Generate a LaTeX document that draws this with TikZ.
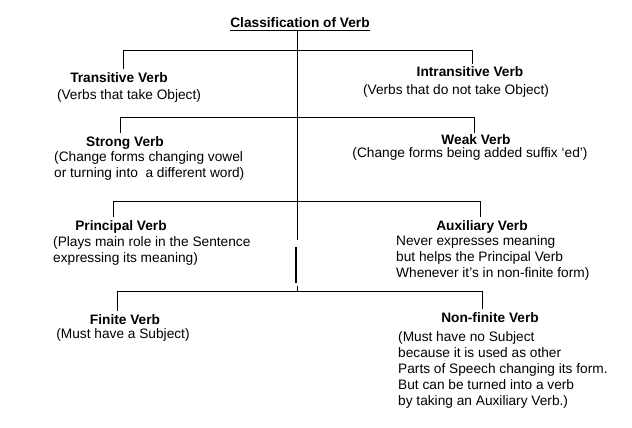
\documentclass[tikz,border=0pt]{standalone}
\usepackage{fontspec}
\setmainfont{Liberation Sans}
\usetikzlibrary{positioning}

\newcommand{\chartfont}{\fontsize{13.7}{16}\selectfont}

\tikzset{
  head/.style={font=\chartfont\bfseries, inner xsep=0pt, inner ysep=2.5pt, anchor=base},
  note/.style={inner sep=0pt, align=left, anchor=north west},
  link/.style={line width=0.8pt}
}

\begin{document}
\begin{tikzpicture}[x=1pt, y=-1pt, font=\chartfont]
    \useasboundingbox (0,0) rectangle (632,428);

    % Root
    \node[head] (root) at (300,27.5) {Classification of Verb};
    \draw[link] ([yshift=-3pt]root.base west) -- ([yshift=-3pt]root.base east);

    % Trunk (with the small break near the bottom)
    \coordinate (t0) at (297,31);
    \coordinate (cut1) at (297,240);
    \coordinate (cut2) at (296,247);
    \coordinate (cut3) at (296,283);
    \coordinate (cut4) at (297,286);
    \coordinate (j4) at (297,291);
    \draw[link] (t0) -- (cut1);
    \draw[line width=1.8pt] (cut2) -- (cut3);
    \draw[link] (cut4) -- (j4);

    % Transitive / Intransitive
    \node[head] (trans) at (119,82) {Transitive Verb};
    \node[inner sep=0pt, anchor=base] (transnote) at (129,99.5) {(Verbs that take Object)};
    \node[head] (intrans) at (470,77) {Intransitive Verb};
    \node[inner sep=0pt, anchor=base] (intransnote) at (456,94) {(Verbs that do not take Object)};
    \coordinate (b1l) at (123,50.7);
    \coordinate (b1r) at (472,50.7);
    \draw[link] (trans.north -| b1l) -- (b1l) -- (b1r) -- (intrans.north -| b1r);

    % Strong / Weak
    \node[head] (strong) at (125,146) {Strong Verb};
    \node[note] (strongnote) at (54,151) {(Change forms changing vowel\\or turning into\ \ a different word)};
    \node[head, inner ysep=1pt] (weak) at (476,144.5) {Weak Verb};
    \node[inner sep=0pt, anchor=base] (weaknote) at (470,157) {(Change forms being added suffix ‘ed’)};
    \coordinate (b2l) at (120,117.3);
    \coordinate (b2r) at (474,117.3);
    \draw[link] (strong.north -| b2l) -- (b2l) -- (b2r) -- (weak.north -| b2r);

    % Principal / Auxiliary
    \node[head] (principal) at (121,230) {Principal Verb};
    \node[note] (principalnote) at (53,236) {(Plays main role in the Sentence\\expressing its meaning)};
    \node[head] (aux) at (482,230) {Auxiliary Verb};
    \node[note] (auxnote) at (396,235) {Never expresses meaning\\but helps the Principal Verb\\Whenever it’s in non-finite form)};
    \coordinate (b3l) at (113,201);
    \coordinate (b3r) at (480,201);
    \draw[link] (principal.north -| b3l) -- (b3l) -- (b3r) -- (aux.north -| b3r);

    % Finite / Non-finite
    \node[head] (finite) at (125,324) {Finite Verb};
    \node[inner sep=0pt, anchor=base] (finitenote) at (123,338) {(Must have a Subject)};
    \node[head] (nonfinite) at (490,322) {Non-finite Verb};
    \node[note] (nonfinitenote) at (398,331) {(Must have no Subject\\because it is used as other\\Parts of Speech changing its form.\\But can be turned into a verb\\by taking an Auxiliary Verb.)};
    \coordinate (b4l) at (117,291);
    \coordinate (b4r) at (482,291);
    \draw[link] (finite.north -| b4l) -- (b4l) -- (b4r) -- (nonfinite.north -| b4r);

\end{tikzpicture}
\end{document}
